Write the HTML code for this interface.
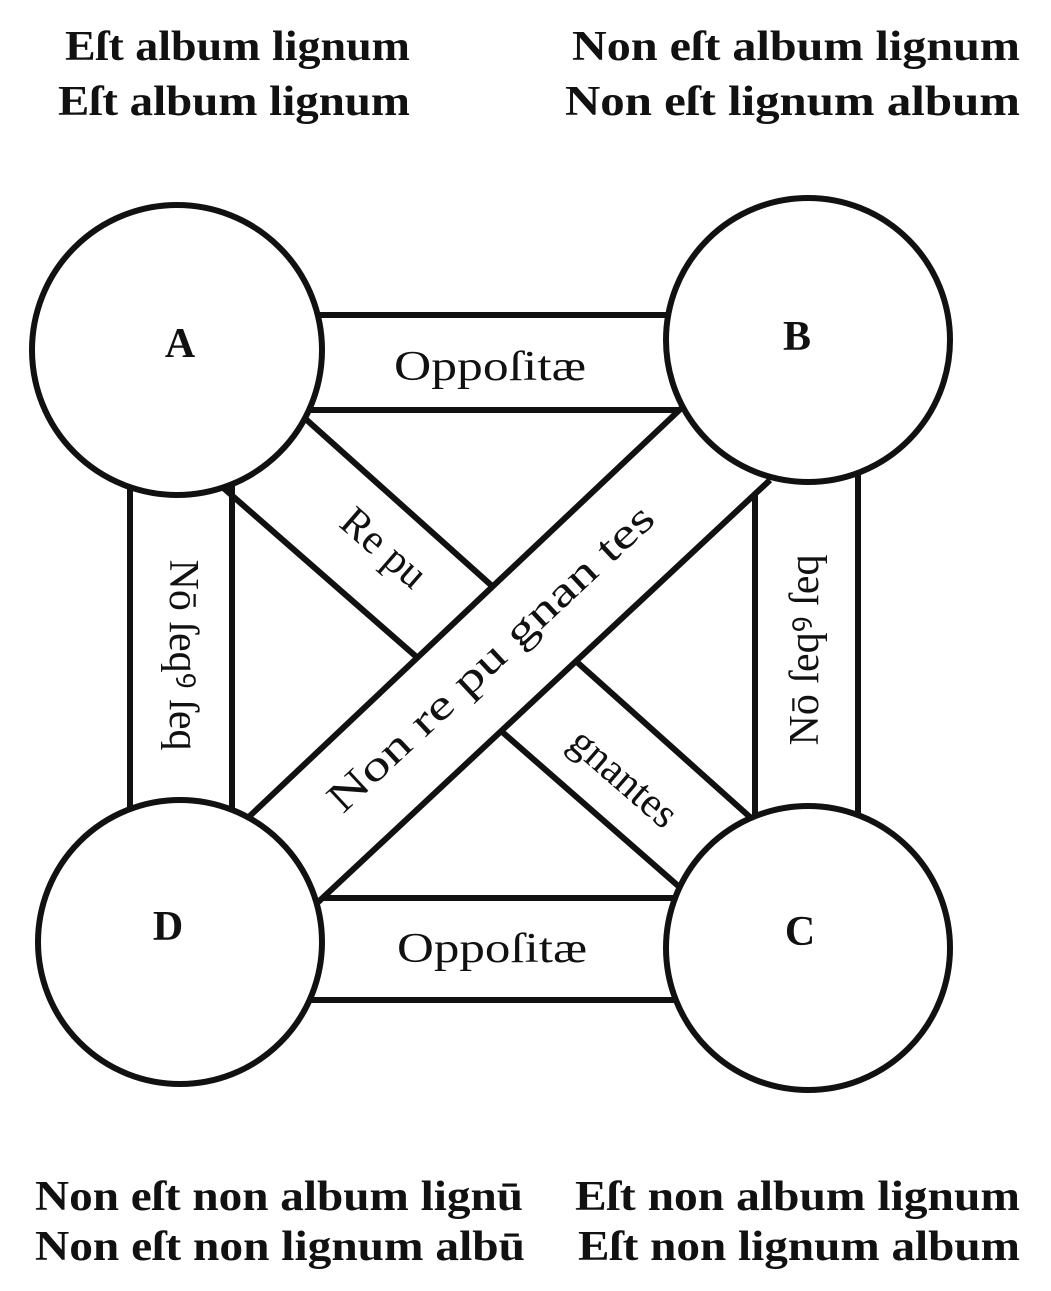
<!DOCTYPE html>
<html><head><meta charset="utf-8"><style>
html,body{margin:0;padding:0;background:#fff;}
svg{display:block;}
text{font-family:"Liberation Serif",serif;fill:#111;}
</style></head><body>
<svg width="1051" height="1291" viewBox="0 0 1051 1291" xmlns="http://www.w3.org/2000/svg">
<g font-size="42" font-weight="bold">
<text x="65" y="60" textLength="345" lengthAdjust="spacingAndGlyphs">Eſt album lignum</text>
<text x="58" y="115" textLength="352" lengthAdjust="spacingAndGlyphs">Eſt album lignum</text>
<text x="572" y="60" textLength="448" lengthAdjust="spacingAndGlyphs">Non eſt album lignum</text>
<text x="565" y="115" textLength="455" lengthAdjust="spacingAndGlyphs">Non eſt lignum album</text>
<text x="35" y="1210" textLength="488" lengthAdjust="spacingAndGlyphs">Non eſt non album lignū</text>
<text x="35" y="1260" textLength="490" lengthAdjust="spacingAndGlyphs">Non eſt non lignum albū</text>
<text x="575" y="1210" textLength="445" lengthAdjust="spacingAndGlyphs">Eſt non album  lignum</text>
<text x="578" y="1260" textLength="442" lengthAdjust="spacingAndGlyphs">Eſt non lignum album</text>
</g>
<g stroke="#111" stroke-width="6" fill="none">
<line x1="250" y1="315" x2="720" y2="315"/>
<line x1="250" y1="410" x2="720" y2="410"/>
<line x1="250" y1="898" x2="720" y2="898"/>
<line x1="250" y1="1000" x2="720" y2="1000"/>
<line x1="130" y1="420" x2="130" y2="880"/>
<line x1="232" y1="420" x2="232" y2="880"/>
<line x1="755" y1="420" x2="755" y2="880"/>
<line x1="858" y1="420" x2="858" y2="880"/>
<line x1="220" y1="485" x2="700" y2="905"/>
<line x1="290" y1="405" x2="770" y2="835"/>
</g>
<polygon points="690,400 770,480 315,905 235,830" fill="#fff" stroke="none"/>
<line x1="690" y1="400" x2="235" y2="830" stroke="#111" stroke-width="6"/>
<line x1="770" y1="480" x2="315" y2="905" stroke="#111" stroke-width="6"/>
<g stroke="#111" stroke-width="6" fill="#fff">
<circle cx="177" cy="350" r="145"/>
<circle cx="808" cy="340" r="142"/>
<circle cx="180" cy="942" r="142"/>
<circle cx="808" cy="948" r="142"/>
</g>
<g font-size="42" font-weight="bold" text-anchor="middle">
<text x="180" y="357">A</text>
<text x="797" y="350">B</text>
<text x="168" y="940">D</text>
<text x="800" y="945">C</text>
</g>
<g font-size="42" text-anchor="middle">
<text x="490" y="380" textLength="192" lengthAdjust="spacingAndGlyphs">Oppoſitæ</text>
<text x="492" y="962" textLength="190" lengthAdjust="spacingAndGlyphs">Oppoſitæ</text>
<text transform="translate(170,655) rotate(90)">Nō ſeqꝰ ſeq</text>
<text transform="translate(818,650) rotate(-90)">Nō ſeqꝰ ſeq</text>
<text transform="translate(375,558) rotate(41)">Re pu</text>
<text transform="translate(615,788) rotate(41)">gnantes</text>
<text transform="translate(500,668) rotate(-43)" textLength="430" lengthAdjust="spacingAndGlyphs">Non    re pu gnan tes</text>
</g>
</svg>
</body></html>
